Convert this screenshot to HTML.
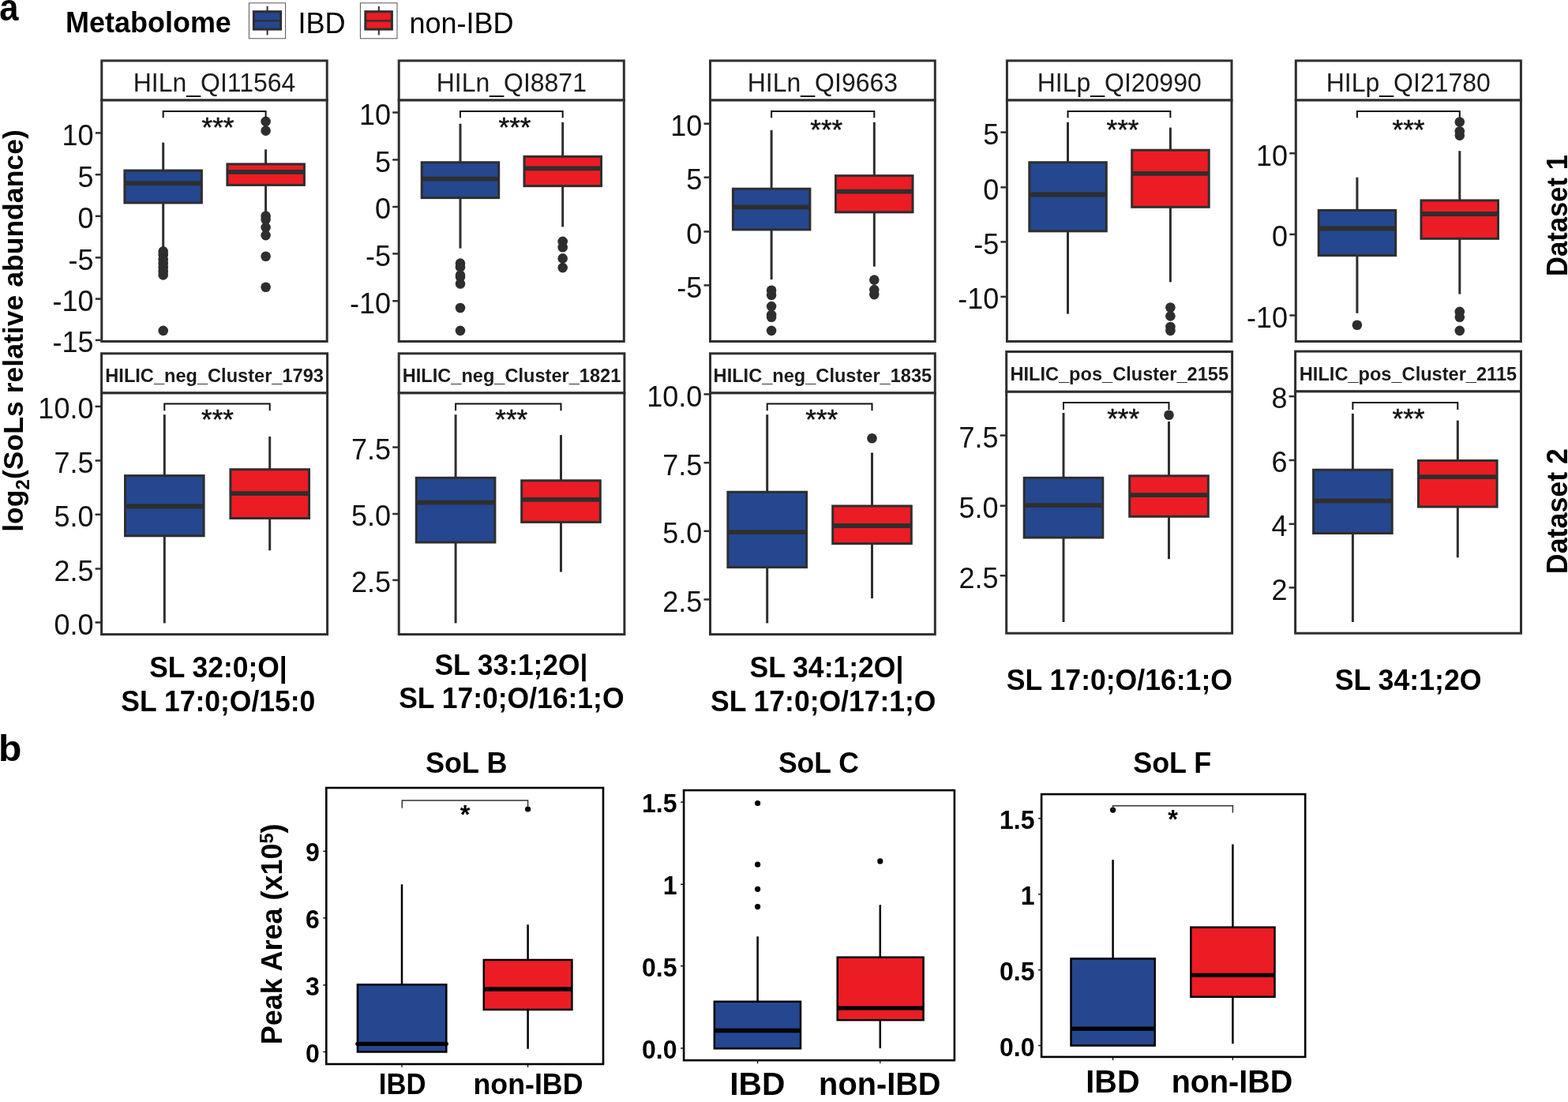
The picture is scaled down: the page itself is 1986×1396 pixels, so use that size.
<!DOCTYPE html><html><head><meta charset="utf-8"><style>html,body{margin:0;padding:0;background:#fff}svg{display:block}text{font-family:"Liberation Sans",Arial,sans-serif}</style></head><body>
<svg width="1986" height="1396" viewBox="0 0 1986 1396">
<rect width="1986" height="1396" fill="#fff"/>
<text transform="translate(-0.81,26.20) scale(0.8980,1)" font-size="48.5" font-weight="bold" fill="#000">a</text>
<text transform="translate(-2.03,963.90) scale(1.0348,1)" font-size="46.5" font-weight="bold" fill="#000">b</text>
<text transform="translate(83.06,41.10) scale(0.9992,1.045)" font-size="36" font-weight="bold" fill="#000">Metabolome</text>
<rect x="315.4" y="3.8" width="46.2" height="45" fill="#fff" stroke="#555" stroke-width="1"/>
<line x1="338.6" y1="7.8" x2="338.6" y2="44.4" stroke="#2e2e2e" stroke-width="2"/>
<rect x="321.4" y="14.7" width="34.2" height="22.4" fill="#25478f" stroke="#2e2e2e" stroke-width="3"/>
<line x1="321.4" y1="26.3" x2="355.6" y2="26.3" stroke="#2e2e2e" stroke-width="2.2"/>
<text transform="translate(377.45,42.00) scale(1.0022,1.045)" font-size="36" fill="#000">IBD</text>
<rect x="456.4" y="3.8" width="46.6" height="45" fill="#fff" stroke="#555" stroke-width="1"/>
<line x1="479.8" y1="7.8" x2="479.8" y2="44.4" stroke="#2e2e2e" stroke-width="2"/>
<rect x="462.8" y="14.7" width="33.6" height="22.4" fill="#ec1c24" stroke="#2e2e2e" stroke-width="3"/>
<line x1="462.8" y1="26.3" x2="496.4" y2="26.3" stroke="#2e2e2e" stroke-width="2.2"/>
<text transform="translate(518.46,42.00) scale(1.0009,1.045)" font-size="36" fill="#000">non-IBD</text>
<text transform="translate(29,673.8) rotate(-90)" font-size="35.6" font-weight="bold" fill="#000">log<tspan font-size="24" dy="8">2</tspan><tspan dy="-8">(SoLs relative abundance)</tspan></text>
<text transform="translate(1985.00,349.95) rotate(-90) scale(0.9748,1.045)" font-size="35.5" font-weight="bold" fill="#000">Dataset 1</text>
<text transform="translate(1985.00,727.23) rotate(-90) scale(1.0093,1.045)" font-size="35.5" font-weight="bold" fill="#000">Dataset 2</text>
<rect x="128.8" y="76.9" width="285.4" height="50.1" fill="#fff" stroke="#2e2e2e" stroke-width="3"/>
<text transform="translate(271.5,115.7) scale(1,1.045)" text-anchor="middle" font-size="32" font-weight="normal" fill="#1a1a1a">HILn_QI11564</text>
<rect x="128.8" y="127" width="285.4" height="305.5" fill="#fff" stroke="#2e2e2e" stroke-width="3"/>
<line x1="120.8" y1="168.4" x2="128.8" y2="168.4" stroke="#2e2e2e" stroke-width="2.5"/>
<text transform="translate(118.6,183.7) scale(1,1.045)" text-anchor="end" font-size="36" fill="#111">10</text>
<line x1="120.8" y1="221.2" x2="128.8" y2="221.2" stroke="#2e2e2e" stroke-width="2.5"/>
<text transform="translate(118.6,236.5) scale(1,1.045)" text-anchor="end" font-size="36" fill="#111">5</text>
<line x1="120.8" y1="273.8" x2="128.8" y2="273.8" stroke="#2e2e2e" stroke-width="2.5"/>
<text transform="translate(118.6,289.1) scale(1,1.045)" text-anchor="end" font-size="36" fill="#111">0</text>
<line x1="120.8" y1="326.3" x2="128.8" y2="326.3" stroke="#2e2e2e" stroke-width="2.5"/>
<text transform="translate(118.6,341.6) scale(1,1.045)" text-anchor="end" font-size="36" fill="#111">-5</text>
<line x1="120.8" y1="378.6" x2="128.8" y2="378.6" stroke="#2e2e2e" stroke-width="2.5"/>
<text transform="translate(118.6,393.9) scale(1,1.045)" text-anchor="end" font-size="36" fill="#111">-10</text>
<line x1="120.8" y1="430.9" x2="128.8" y2="430.9" stroke="#2e2e2e" stroke-width="2.5"/>
<text transform="translate(118.6,446.2) scale(1,1.045)" text-anchor="end" font-size="36" fill="#111">-15</text>
<line x1="206.7" y1="180.6" x2="206.7" y2="216" stroke="#2e2e2e" stroke-width="3"/>
<line x1="206.7" y1="256.9" x2="206.7" y2="313" stroke="#2e2e2e" stroke-width="3"/>
<rect x="157.9" y="216" width="97.5" height="40.9" fill="#25478f" stroke="#2e2e2e" stroke-width="3"/>
<line x1="157.9" y1="232.1" x2="255.4" y2="232.1" stroke="#2e2e2e" stroke-width="5.8" stroke-linecap="butt"/>
<circle cx="206.7" cy="318.4" r="6.3" fill="#2e2e2e"/>
<circle cx="206.7" cy="323" r="6.3" fill="#2e2e2e"/>
<circle cx="206.7" cy="329" r="6.3" fill="#2e2e2e"/>
<circle cx="206.7" cy="334" r="6.3" fill="#2e2e2e"/>
<circle cx="206.7" cy="339" r="6.3" fill="#2e2e2e"/>
<circle cx="206.7" cy="344" r="6.3" fill="#2e2e2e"/>
<circle cx="206.7" cy="348.4" r="6.3" fill="#2e2e2e"/>
<circle cx="206.7" cy="418.9" r="6.3" fill="#2e2e2e"/>
<line x1="336.6" y1="189.3" x2="336.6" y2="207.9" stroke="#2e2e2e" stroke-width="3"/>
<line x1="336.6" y1="234.4" x2="336.6" y2="272.4" stroke="#2e2e2e" stroke-width="3"/>
<rect x="287.9" y="207.9" width="97.5" height="26.5" fill="#ec1c24" stroke="#2e2e2e" stroke-width="3"/>
<line x1="287.9" y1="217.8" x2="385.4" y2="217.8" stroke="#2e2e2e" stroke-width="5.8" stroke-linecap="butt"/>
<circle cx="336.6" cy="153.9" r="6.3" fill="#2e2e2e"/>
<circle cx="336.6" cy="165.6" r="6.3" fill="#2e2e2e"/>
<circle cx="336.6" cy="273.6" r="6.3" fill="#2e2e2e"/>
<circle cx="336.6" cy="278.1" r="6.3" fill="#2e2e2e"/>
<circle cx="336.6" cy="288.1" r="6.3" fill="#2e2e2e"/>
<circle cx="336.6" cy="298.1" r="6.3" fill="#2e2e2e"/>
<circle cx="336.6" cy="324.8" r="6.3" fill="#2e2e2e"/>
<circle cx="336.6" cy="363.8" r="6.3" fill="#2e2e2e"/>
<path d="M206.7 149.3V141H336.6V149.3" fill="none" stroke="#111" stroke-width="2"/>
<text x="276" y="172.9" text-anchor="middle" font-size="35" fill="#111" stroke="#111" stroke-width="0.5">***</text>
<rect x="505.2" y="76.9" width="285.1" height="50.1" fill="#fff" stroke="#2e2e2e" stroke-width="3"/>
<text transform="translate(647.8,115.7) scale(1,1.045)" text-anchor="middle" font-size="32" font-weight="normal" fill="#1a1a1a">HILn_QI8871</text>
<rect x="505.2" y="127" width="285.1" height="305.5" fill="#fff" stroke="#2e2e2e" stroke-width="3"/>
<line x1="497.2" y1="142.5" x2="505.2" y2="142.5" stroke="#2e2e2e" stroke-width="2.5"/>
<text transform="translate(495,157.8) scale(1,1.045)" text-anchor="end" font-size="36" fill="#111">10</text>
<line x1="497.2" y1="202.4" x2="505.2" y2="202.4" stroke="#2e2e2e" stroke-width="2.5"/>
<text transform="translate(495,217.7) scale(1,1.045)" text-anchor="end" font-size="36" fill="#111">5</text>
<line x1="497.2" y1="262" x2="505.2" y2="262" stroke="#2e2e2e" stroke-width="2.5"/>
<text transform="translate(495,277.3) scale(1,1.045)" text-anchor="end" font-size="36" fill="#111">0</text>
<line x1="497.2" y1="321.4" x2="505.2" y2="321.4" stroke="#2e2e2e" stroke-width="2.5"/>
<text transform="translate(495,336.7) scale(1,1.045)" text-anchor="end" font-size="36" fill="#111">-5</text>
<line x1="497.2" y1="381.3" x2="505.2" y2="381.3" stroke="#2e2e2e" stroke-width="2.5"/>
<text transform="translate(495,396.6) scale(1,1.045)" text-anchor="end" font-size="36" fill="#111">-10</text>
<line x1="583" y1="156.7" x2="583" y2="205.7" stroke="#2e2e2e" stroke-width="3"/>
<line x1="583" y1="250.6" x2="583" y2="314.6" stroke="#2e2e2e" stroke-width="3"/>
<rect x="534.2" y="205.7" width="97.5" height="44.9" fill="#25478f" stroke="#2e2e2e" stroke-width="3"/>
<line x1="534.2" y1="226.6" x2="631.8" y2="226.6" stroke="#2e2e2e" stroke-width="5.8" stroke-linecap="butt"/>
<circle cx="583" cy="333.6" r="6.3" fill="#2e2e2e"/>
<circle cx="583" cy="338.3" r="6.3" fill="#2e2e2e"/>
<circle cx="583" cy="348.6" r="6.3" fill="#2e2e2e"/>
<circle cx="583" cy="350.8" r="6.3" fill="#2e2e2e"/>
<circle cx="583" cy="359.5" r="6.3" fill="#2e2e2e"/>
<circle cx="583" cy="390" r="6.3" fill="#2e2e2e"/>
<circle cx="583" cy="418.9" r="6.3" fill="#2e2e2e"/>
<line x1="712.7" y1="154.8" x2="712.7" y2="198.3" stroke="#2e2e2e" stroke-width="3"/>
<line x1="712.7" y1="235.6" x2="712.7" y2="287.4" stroke="#2e2e2e" stroke-width="3"/>
<rect x="664" y="198.3" width="97.5" height="37.3" fill="#ec1c24" stroke="#2e2e2e" stroke-width="3"/>
<line x1="664" y1="213.3" x2="761.5" y2="213.3" stroke="#2e2e2e" stroke-width="5.8" stroke-linecap="butt"/>
<circle cx="712.7" cy="305.9" r="6.3" fill="#2e2e2e"/>
<circle cx="712.7" cy="313.2" r="6.3" fill="#2e2e2e"/>
<circle cx="712.7" cy="327.4" r="6.3" fill="#2e2e2e"/>
<circle cx="712.7" cy="339.1" r="6.3" fill="#2e2e2e"/>
<path d="M583 149.3V141H712.7V149.3" fill="none" stroke="#111" stroke-width="2"/>
<text x="652" y="173" text-anchor="middle" font-size="35" fill="#111" stroke="#111" stroke-width="0.5">***</text>
<rect x="899.5" y="76.9" width="284.8" height="50.1" fill="#fff" stroke="#2e2e2e" stroke-width="3"/>
<text transform="translate(1041.9,115.7) scale(1,1.045)" text-anchor="middle" font-size="32" font-weight="normal" fill="#1a1a1a">HILn_QI9663</text>
<rect x="899.5" y="127" width="284.8" height="305.5" fill="#fff" stroke="#2e2e2e" stroke-width="3"/>
<line x1="891.5" y1="156.7" x2="899.5" y2="156.7" stroke="#2e2e2e" stroke-width="2.5"/>
<text transform="translate(889.3,172) scale(1,1.045)" text-anchor="end" font-size="36" fill="#111">10</text>
<line x1="891.5" y1="224.7" x2="899.5" y2="224.7" stroke="#2e2e2e" stroke-width="2.5"/>
<text transform="translate(889.3,240) scale(1,1.045)" text-anchor="end" font-size="36" fill="#111">5</text>
<line x1="891.5" y1="293.4" x2="899.5" y2="293.4" stroke="#2e2e2e" stroke-width="2.5"/>
<text transform="translate(889.3,308.7) scale(1,1.045)" text-anchor="end" font-size="36" fill="#111">0</text>
<line x1="891.5" y1="361.4" x2="899.5" y2="361.4" stroke="#2e2e2e" stroke-width="2.5"/>
<text transform="translate(889.3,376.7) scale(1,1.045)" text-anchor="end" font-size="36" fill="#111">-5</text>
<line x1="977.1" y1="164.8" x2="977.1" y2="239.2" stroke="#2e2e2e" stroke-width="3"/>
<line x1="977.1" y1="290.9" x2="977.1" y2="354.1" stroke="#2e2e2e" stroke-width="3"/>
<rect x="928.4" y="239.2" width="97.5" height="51.7" fill="#25478f" stroke="#2e2e2e" stroke-width="3"/>
<line x1="928.4" y1="262.3" x2="1025.8" y2="262.3" stroke="#2e2e2e" stroke-width="5.8" stroke-linecap="butt"/>
<circle cx="977.1" cy="367.7" r="6.3" fill="#2e2e2e"/>
<circle cx="977.1" cy="373.7" r="6.3" fill="#2e2e2e"/>
<circle cx="977.1" cy="388.1" r="6.3" fill="#2e2e2e"/>
<circle cx="977.1" cy="399" r="6.3" fill="#2e2e2e"/>
<circle cx="977.1" cy="401.7" r="6.3" fill="#2e2e2e"/>
<circle cx="977.1" cy="418.9" r="6.3" fill="#2e2e2e"/>
<line x1="1107.3" y1="154.8" x2="1107.3" y2="222.6" stroke="#2e2e2e" stroke-width="3"/>
<line x1="1107.3" y1="268.8" x2="1107.3" y2="337.7" stroke="#2e2e2e" stroke-width="3"/>
<rect x="1058.5" y="222.6" width="97.5" height="46.2" fill="#ec1c24" stroke="#2e2e2e" stroke-width="3"/>
<line x1="1058.5" y1="242.7" x2="1156" y2="242.7" stroke="#2e2e2e" stroke-width="5.8" stroke-linecap="butt"/>
<circle cx="1107.3" cy="354.6" r="6.3" fill="#2e2e2e"/>
<circle cx="1107.3" cy="367.1" r="6.3" fill="#2e2e2e"/>
<circle cx="1107.3" cy="373.1" r="6.3" fill="#2e2e2e"/>
<path d="M977.1 149.3V141H1107.3V149.3" fill="none" stroke="#111" stroke-width="2"/>
<text x="1046.8" y="176.1" text-anchor="middle" font-size="35" fill="#111" stroke="#111" stroke-width="0.5">***</text>
<rect x="1275.4" y="76.9" width="284.6" height="50.1" fill="#fff" stroke="#2e2e2e" stroke-width="3"/>
<text transform="translate(1417.7,115.7) scale(1,1.045)" text-anchor="middle" font-size="32" font-weight="normal" fill="#1a1a1a">HILp_QI20990</text>
<rect x="1275.4" y="127" width="284.6" height="305.5" fill="#fff" stroke="#2e2e2e" stroke-width="3"/>
<line x1="1267.4" y1="167.6" x2="1275.4" y2="167.6" stroke="#2e2e2e" stroke-width="2.5"/>
<text transform="translate(1265.2,182.9) scale(1,1.045)" text-anchor="end" font-size="36" fill="#111">5</text>
<line x1="1267.4" y1="237.3" x2="1275.4" y2="237.3" stroke="#2e2e2e" stroke-width="2.5"/>
<text transform="translate(1265.2,252.6) scale(1,1.045)" text-anchor="end" font-size="36" fill="#111">0</text>
<line x1="1267.4" y1="306.4" x2="1275.4" y2="306.4" stroke="#2e2e2e" stroke-width="2.5"/>
<text transform="translate(1265.2,321.7) scale(1,1.045)" text-anchor="end" font-size="36" fill="#111">-5</text>
<line x1="1267.4" y1="375.9" x2="1275.4" y2="375.9" stroke="#2e2e2e" stroke-width="2.5"/>
<text transform="translate(1265.2,391.2) scale(1,1.045)" text-anchor="end" font-size="36" fill="#111">-10</text>
<line x1="1352.5" y1="154.8" x2="1352.5" y2="205.7" stroke="#2e2e2e" stroke-width="3"/>
<line x1="1352.5" y1="292.8" x2="1352.5" y2="397.6" stroke="#2e2e2e" stroke-width="3"/>
<rect x="1303.8" y="205.7" width="97.5" height="87.1" fill="#25478f" stroke="#2e2e2e" stroke-width="3"/>
<line x1="1303.8" y1="246.5" x2="1401.2" y2="246.5" stroke="#2e2e2e" stroke-width="5.8" stroke-linecap="butt"/>
<line x1="1482.4" y1="161.6" x2="1482.4" y2="190.2" stroke="#2e2e2e" stroke-width="3"/>
<line x1="1482.4" y1="262.3" x2="1482.4" y2="357.3" stroke="#2e2e2e" stroke-width="3"/>
<rect x="1433.7" y="190.2" width="97.5" height="72.1" fill="#ec1c24" stroke="#2e2e2e" stroke-width="3"/>
<line x1="1433.7" y1="219.8" x2="1531.2" y2="219.8" stroke="#2e2e2e" stroke-width="5.8" stroke-linecap="butt"/>
<circle cx="1482.4" cy="389.5" r="6.3" fill="#2e2e2e"/>
<circle cx="1482.4" cy="400.4" r="6.3" fill="#2e2e2e"/>
<circle cx="1482.4" cy="414" r="6.3" fill="#2e2e2e"/>
<circle cx="1482.4" cy="418.9" r="6.3" fill="#2e2e2e"/>
<path d="M1352.5 149.3V141H1482.4V149.3" fill="none" stroke="#111" stroke-width="2"/>
<text x="1422" y="176" text-anchor="middle" font-size="35" fill="#111" stroke="#111" stroke-width="0.5">***</text>
<rect x="1641.3" y="76.9" width="285.1" height="50.1" fill="#fff" stroke="#2e2e2e" stroke-width="3"/>
<text transform="translate(1783.8,115.7) scale(1,1.045)" text-anchor="middle" font-size="32" font-weight="normal" fill="#1a1a1a">HILp_QI21780</text>
<rect x="1641.3" y="127" width="285.1" height="305.5" fill="#fff" stroke="#2e2e2e" stroke-width="3"/>
<line x1="1633.3" y1="194.2" x2="1641.3" y2="194.2" stroke="#2e2e2e" stroke-width="2.5"/>
<text transform="translate(1631.1,209.5) scale(1,1.045)" text-anchor="end" font-size="36" fill="#111">10</text>
<line x1="1633.3" y1="296.9" x2="1641.3" y2="296.9" stroke="#2e2e2e" stroke-width="2.5"/>
<text transform="translate(1631.1,312.2) scale(1,1.045)" text-anchor="end" font-size="36" fill="#111">0</text>
<line x1="1633.3" y1="399.5" x2="1641.3" y2="399.5" stroke="#2e2e2e" stroke-width="2.5"/>
<text transform="translate(1631.1,414.8) scale(1,1.045)" text-anchor="end" font-size="36" fill="#111">-10</text>
<line x1="1718.9" y1="224.7" x2="1718.9" y2="266.4" stroke="#2e2e2e" stroke-width="3"/>
<line x1="1718.9" y1="323.6" x2="1718.9" y2="396.8" stroke="#2e2e2e" stroke-width="3"/>
<rect x="1670.2" y="266.4" width="97.5" height="57.2" fill="#25478f" stroke="#2e2e2e" stroke-width="3"/>
<line x1="1670.2" y1="289.5" x2="1767.7" y2="289.5" stroke="#2e2e2e" stroke-width="5.8" stroke-linecap="butt"/>
<circle cx="1718.9" cy="411.8" r="6.3" fill="#2e2e2e"/>
<line x1="1848.8" y1="191.2" x2="1848.8" y2="253.9" stroke="#2e2e2e" stroke-width="3"/>
<line x1="1848.8" y1="302.3" x2="1848.8" y2="372.6" stroke="#2e2e2e" stroke-width="3"/>
<rect x="1800" y="253.9" width="97.5" height="48.4" fill="#ec1c24" stroke="#2e2e2e" stroke-width="3"/>
<line x1="1800" y1="271" x2="1897.5" y2="271" stroke="#2e2e2e" stroke-width="5.8" stroke-linecap="butt"/>
<circle cx="1848.8" cy="154.5" r="6.3" fill="#2e2e2e"/>
<circle cx="1848.8" cy="166.2" r="6.3" fill="#2e2e2e"/>
<circle cx="1848.8" cy="171.6" r="6.3" fill="#2e2e2e"/>
<circle cx="1848.8" cy="394.9" r="6.3" fill="#2e2e2e"/>
<circle cx="1848.8" cy="401.7" r="6.3" fill="#2e2e2e"/>
<circle cx="1848.8" cy="418.9" r="6.3" fill="#2e2e2e"/>
<path d="M1718.9 149.3V141H1848.8V149.3" fill="none" stroke="#111" stroke-width="2"/>
<text x="1784" y="176" text-anchor="middle" font-size="35" fill="#111" stroke="#111" stroke-width="0.5">***</text>
<rect x="128.6" y="447.8" width="286" height="50.1" fill="#fff" stroke="#2e2e2e" stroke-width="3"/>
<text transform="translate(271.6,483.5) scale(1,1.045)" text-anchor="middle" font-size="23.6" font-weight="bold" fill="#1a1a1a">HILIC_neg_Cluster_1793</text>
<rect x="128.6" y="497.9" width="286" height="305.7" fill="#fff" stroke="#2e2e2e" stroke-width="3"/>
<line x1="120.6" y1="514.9" x2="128.6" y2="514.9" stroke="#2e2e2e" stroke-width="2.5"/>
<text transform="translate(118.4,530.2) scale(1,1.045)" text-anchor="end" font-size="36" fill="#111">10.0</text>
<line x1="120.6" y1="583.5" x2="128.6" y2="583.5" stroke="#2e2e2e" stroke-width="2.5"/>
<text transform="translate(118.4,598.8) scale(1,1.045)" text-anchor="end" font-size="36" fill="#111">7.5</text>
<line x1="120.6" y1="651.8" x2="128.6" y2="651.8" stroke="#2e2e2e" stroke-width="2.5"/>
<text transform="translate(118.4,667.1) scale(1,1.045)" text-anchor="end" font-size="36" fill="#111">5.0</text>
<line x1="120.6" y1="720.5" x2="128.6" y2="720.5" stroke="#2e2e2e" stroke-width="2.5"/>
<text transform="translate(118.4,735.8) scale(1,1.045)" text-anchor="end" font-size="36" fill="#111">2.5</text>
<line x1="120.6" y1="788.5" x2="128.6" y2="788.5" stroke="#2e2e2e" stroke-width="2.5"/>
<text transform="translate(118.4,803.8) scale(1,1.045)" text-anchor="end" font-size="36" fill="#111">0.0</text>
<line x1="208.3" y1="525.2" x2="208.3" y2="602.6" stroke="#2e2e2e" stroke-width="3"/>
<line x1="208.3" y1="678.8" x2="208.3" y2="789.4" stroke="#2e2e2e" stroke-width="3"/>
<rect x="158.5" y="602.6" width="99.6" height="76.2" fill="#25478f" stroke="#2e2e2e" stroke-width="3"/>
<line x1="158.5" y1="641.5" x2="258.1" y2="641.5" stroke="#2e2e2e" stroke-width="5.8" stroke-linecap="butt"/>
<line x1="341.7" y1="553" x2="341.7" y2="594.7" stroke="#2e2e2e" stroke-width="3"/>
<line x1="341.7" y1="656.5" x2="341.7" y2="697.3" stroke="#2e2e2e" stroke-width="3"/>
<rect x="291.9" y="594.7" width="99.6" height="61.8" fill="#ec1c24" stroke="#2e2e2e" stroke-width="3"/>
<line x1="291.9" y1="625.2" x2="391.5" y2="625.2" stroke="#2e2e2e" stroke-width="5.8" stroke-linecap="butt"/>
<path d="M208.3 520.3V511.6H341.7V520.3" fill="none" stroke="#111" stroke-width="2"/>
<text x="275.5" y="543.1" text-anchor="middle" font-size="35" fill="#111" stroke="#111" stroke-width="0.5">***</text>
<rect x="505.2" y="447.8" width="285.7" height="50.1" fill="#fff" stroke="#2e2e2e" stroke-width="3"/>
<text transform="translate(648,483.5) scale(1,1.045)" text-anchor="middle" font-size="23.6" font-weight="bold" fill="#1a1a1a">HILIC_neg_Cluster_1821</text>
<rect x="505.2" y="497.9" width="285.7" height="305.7" fill="#fff" stroke="#2e2e2e" stroke-width="3"/>
<line x1="497.2" y1="566.6" x2="505.2" y2="566.6" stroke="#2e2e2e" stroke-width="2.5"/>
<text transform="translate(495,581.9) scale(1,1.045)" text-anchor="end" font-size="36" fill="#111">7.5</text>
<line x1="497.2" y1="651" x2="505.2" y2="651" stroke="#2e2e2e" stroke-width="2.5"/>
<text transform="translate(495,666.3) scale(1,1.045)" text-anchor="end" font-size="36" fill="#111">5.0</text>
<line x1="497.2" y1="734.9" x2="505.2" y2="734.9" stroke="#2e2e2e" stroke-width="2.5"/>
<text transform="translate(495,750.2) scale(1,1.045)" text-anchor="end" font-size="36" fill="#111">2.5</text>
<line x1="577.1" y1="525.2" x2="577.1" y2="605.3" stroke="#2e2e2e" stroke-width="3"/>
<line x1="577.1" y1="687" x2="577.1" y2="789.4" stroke="#2e2e2e" stroke-width="3"/>
<rect x="527.3" y="605.3" width="99.6" height="81.7" fill="#25478f" stroke="#2e2e2e" stroke-width="3"/>
<line x1="527.3" y1="636.6" x2="626.9" y2="636.6" stroke="#2e2e2e" stroke-width="5.8" stroke-linecap="butt"/>
<line x1="710.5" y1="551.1" x2="710.5" y2="608.8" stroke="#2e2e2e" stroke-width="3"/>
<line x1="710.5" y1="661.4" x2="710.5" y2="724.5" stroke="#2e2e2e" stroke-width="3"/>
<rect x="660.7" y="608.8" width="99.6" height="52.6" fill="#ec1c24" stroke="#2e2e2e" stroke-width="3"/>
<line x1="660.7" y1="632.8" x2="760.3" y2="632.8" stroke="#2e2e2e" stroke-width="5.8" stroke-linecap="butt"/>
<path d="M577.1 520.3V511.6H710.5V520.3" fill="none" stroke="#111" stroke-width="2"/>
<text x="647.8" y="543.1" text-anchor="middle" font-size="35" fill="#111" stroke="#111" stroke-width="0.5">***</text>
<rect x="899.5" y="447.8" width="284.8" height="50.1" fill="#fff" stroke="#2e2e2e" stroke-width="3"/>
<text transform="translate(1041.9,483.5) scale(1,1.045)" text-anchor="middle" font-size="23.6" font-weight="bold" fill="#1a1a1a">HILIC_neg_Cluster_1835</text>
<rect x="899.5" y="497.9" width="284.8" height="305.7" fill="#fff" stroke="#2e2e2e" stroke-width="3"/>
<line x1="891.5" y1="499.4" x2="899.5" y2="499.4" stroke="#2e2e2e" stroke-width="2.5"/>
<text transform="translate(889.3,514.7) scale(1,1.045)" text-anchor="end" font-size="36" fill="#111">10.0</text>
<line x1="891.5" y1="586.2" x2="899.5" y2="586.2" stroke="#2e2e2e" stroke-width="2.5"/>
<text transform="translate(889.3,601.5) scale(1,1.045)" text-anchor="end" font-size="36" fill="#111">7.5</text>
<line x1="891.5" y1="672.8" x2="899.5" y2="672.8" stroke="#2e2e2e" stroke-width="2.5"/>
<text transform="translate(889.3,688.1) scale(1,1.045)" text-anchor="end" font-size="36" fill="#111">5.0</text>
<line x1="891.5" y1="759.4" x2="899.5" y2="759.4" stroke="#2e2e2e" stroke-width="2.5"/>
<text transform="translate(889.3,774.7) scale(1,1.045)" text-anchor="end" font-size="36" fill="#111">2.5</text>
<line x1="971.7" y1="525.2" x2="971.7" y2="623.3" stroke="#2e2e2e" stroke-width="3"/>
<line x1="971.7" y1="718.6" x2="971.7" y2="789.4" stroke="#2e2e2e" stroke-width="3"/>
<rect x="921.9" y="623.3" width="99.6" height="95.3" fill="#25478f" stroke="#2e2e2e" stroke-width="3"/>
<line x1="921.9" y1="674.2" x2="1021.5" y2="674.2" stroke="#2e2e2e" stroke-width="5.8" stroke-linecap="butt"/>
<line x1="1104.5" y1="573.4" x2="1104.5" y2="641" stroke="#2e2e2e" stroke-width="3"/>
<line x1="1104.5" y1="688.6" x2="1104.5" y2="758" stroke="#2e2e2e" stroke-width="3"/>
<rect x="1054.7" y="641" width="99.6" height="47.6" fill="#ec1c24" stroke="#2e2e2e" stroke-width="3"/>
<line x1="1054.7" y1="666" x2="1154.3" y2="666" stroke="#2e2e2e" stroke-width="5.8" stroke-linecap="butt"/>
<circle cx="1104.5" cy="555.2" r="6.3" fill="#2e2e2e"/>
<path d="M971.7 520.3V511.6H1104.5V520.3" fill="none" stroke="#111" stroke-width="2"/>
<text x="1040.8" y="543.1" text-anchor="middle" font-size="35" fill="#111" stroke="#111" stroke-width="0.5">***</text>
<rect x="1274.7" y="445.5" width="285.9" height="50.8" fill="#fff" stroke="#2e2e2e" stroke-width="3"/>
<text transform="translate(1417.7,481.9) scale(1,1.045)" text-anchor="middle" font-size="23.6" font-weight="bold" fill="#1a1a1a">HILIC_pos_Cluster_2155</text>
<rect x="1274.7" y="496.3" width="285.9" height="305.9" fill="#fff" stroke="#2e2e2e" stroke-width="3"/>
<line x1="1266.7" y1="551.6" x2="1274.7" y2="551.6" stroke="#2e2e2e" stroke-width="2.5"/>
<text transform="translate(1264.5,566.9) scale(1,1.045)" text-anchor="end" font-size="36" fill="#111">7.5</text>
<line x1="1266.7" y1="640.7" x2="1274.7" y2="640.7" stroke="#2e2e2e" stroke-width="2.5"/>
<text transform="translate(1264.5,656) scale(1,1.045)" text-anchor="end" font-size="36" fill="#111">5.0</text>
<line x1="1266.7" y1="729.2" x2="1274.7" y2="729.2" stroke="#2e2e2e" stroke-width="2.5"/>
<text transform="translate(1264.5,744.5) scale(1,1.045)" text-anchor="end" font-size="36" fill="#111">2.5</text>
<line x1="1347" y1="523" x2="1347" y2="605.3" stroke="#2e2e2e" stroke-width="3"/>
<line x1="1347" y1="681" x2="1347" y2="788" stroke="#2e2e2e" stroke-width="3"/>
<rect x="1297.2" y="605.3" width="99.6" height="75.7" fill="#25478f" stroke="#2e2e2e" stroke-width="3"/>
<line x1="1297.2" y1="640.1" x2="1396.8" y2="640.1" stroke="#2e2e2e" stroke-width="5.8" stroke-linecap="butt"/>
<line x1="1480.5" y1="533.9" x2="1480.5" y2="602.8" stroke="#2e2e2e" stroke-width="3"/>
<line x1="1480.5" y1="654.3" x2="1480.5" y2="708.2" stroke="#2e2e2e" stroke-width="3"/>
<rect x="1430.7" y="602.8" width="99.6" height="51.5" fill="#ec1c24" stroke="#2e2e2e" stroke-width="3"/>
<line x1="1430.7" y1="627.1" x2="1530.3" y2="627.1" stroke="#2e2e2e" stroke-width="5.8" stroke-linecap="butt"/>
<circle cx="1480.5" cy="525.8" r="6.3" fill="#2e2e2e"/>
<path d="M1347 519V510H1480.5V519" fill="none" stroke="#111" stroke-width="2"/>
<text x="1422.7" y="541.5" text-anchor="middle" font-size="35" fill="#111" stroke="#111" stroke-width="0.5">***</text>
<rect x="1640.6" y="445.1" width="285.9" height="50.8" fill="#fff" stroke="#2e2e2e" stroke-width="3"/>
<text transform="translate(1783.5,481.5) scale(1,1.045)" text-anchor="middle" font-size="23.6" font-weight="bold" fill="#1a1a1a">HILIC_pos_Cluster_2115</text>
<rect x="1640.6" y="495.9" width="285.9" height="306.3" fill="#fff" stroke="#2e2e2e" stroke-width="3"/>
<line x1="1632.6" y1="502.1" x2="1640.6" y2="502.1" stroke="#2e2e2e" stroke-width="2.5"/>
<text transform="translate(1630.4,517.4) scale(1,1.045)" text-anchor="end" font-size="36" fill="#111">8</text>
<line x1="1632.6" y1="583" x2="1640.6" y2="583" stroke="#2e2e2e" stroke-width="2.5"/>
<text transform="translate(1630.4,598.3) scale(1,1.045)" text-anchor="end" font-size="36" fill="#111">6</text>
<line x1="1632.6" y1="663.8" x2="1640.6" y2="663.8" stroke="#2e2e2e" stroke-width="2.5"/>
<text transform="translate(1630.4,679.1) scale(1,1.045)" text-anchor="end" font-size="36" fill="#111">4</text>
<line x1="1632.6" y1="744.4" x2="1640.6" y2="744.4" stroke="#2e2e2e" stroke-width="2.5"/>
<text transform="translate(1630.4,759.7) scale(1,1.045)" text-anchor="end" font-size="36" fill="#111">2</text>
<line x1="1713.4" y1="523.9" x2="1713.4" y2="595.2" stroke="#2e2e2e" stroke-width="3"/>
<line x1="1713.4" y1="675.5" x2="1713.4" y2="788" stroke="#2e2e2e" stroke-width="3"/>
<rect x="1663.6" y="595.2" width="99.6" height="80.3" fill="#25478f" stroke="#2e2e2e" stroke-width="3"/>
<line x1="1663.6" y1="634.7" x2="1763.2" y2="634.7" stroke="#2e2e2e" stroke-width="5.8" stroke-linecap="butt"/>
<line x1="1846.3" y1="532.6" x2="1846.3" y2="583.5" stroke="#2e2e2e" stroke-width="3"/>
<line x1="1846.3" y1="642" x2="1846.3" y2="706.3" stroke="#2e2e2e" stroke-width="3"/>
<rect x="1796.5" y="583.5" width="99.6" height="58.5" fill="#ec1c24" stroke="#2e2e2e" stroke-width="3"/>
<line x1="1796.5" y1="604.2" x2="1896.1" y2="604.2" stroke="#2e2e2e" stroke-width="5.8" stroke-linecap="butt"/>
<path d="M1713.4 519V510H1846.3V519" fill="none" stroke="#111" stroke-width="2"/>
<text x="1784" y="541.5" text-anchor="middle" font-size="35" fill="#111" stroke="#111" stroke-width="0.5">***</text>
<text transform="translate(189.14,857.90) scale(0.9983,1.045)" font-size="35.5" font-weight="bold" fill="#000">SL 32:0;O|</text>
<text transform="translate(153.33,901.00) scale(1.0007,1.045)" font-size="35.5" font-weight="bold" fill="#000">SL 17:0;O/15:0</text>
<text transform="translate(550.44,854.70) scale(0.9964,1.045)" font-size="35.5" font-weight="bold" fill="#000">SL 33:1;2O|</text>
<text transform="translate(505.13,897.00) scale(1.0002,1.045)" font-size="35.5" font-weight="bold" fill="#000">SL 17:0;O/16:1;O</text>
<text transform="translate(949.43,857.90) scale(1.0016,1.045)" font-size="35.5" font-weight="bold" fill="#000">SL 34:1;2O|</text>
<text transform="translate(900.03,901.00) scale(1.0002,1.045)" font-size="35.5" font-weight="bold" fill="#000">SL 17:0;O/17:1;O</text>
<text transform="translate(1274.83,873.90) scale(1.0027,1.045)" font-size="35.5" font-weight="bold" fill="#000">SL 17:0;O/16:1;O</text>
<text transform="translate(1690.73,873.90) scale(1.0055,1.045)" font-size="35.5" font-weight="bold" fill="#000">SL 34:1;2O</text>
<text transform="translate(538.92,979.10) scale(1.0018,1.05)" font-size="36" font-weight="bold" fill="#000">SoL B</text>
<rect x="413.3" y="998" width="350.7" height="350" fill="#fff" stroke="#000" stroke-width="2.6"/>
<line x1="409.3" y1="1078.3" x2="413.3" y2="1078.3" stroke="#000" stroke-width="1.4"/>
<text transform="translate(404.7,1091.3) scale(1,1.045)" text-anchor="end" font-size="32" font-weight="bold" fill="#000">9</text>
<line x1="409.3" y1="1162.9" x2="413.3" y2="1162.9" stroke="#000" stroke-width="1.4"/>
<text transform="translate(404.7,1175.9) scale(1,1.045)" text-anchor="end" font-size="32" font-weight="bold" fill="#000">6</text>
<line x1="409.3" y1="1247.9" x2="413.3" y2="1247.9" stroke="#000" stroke-width="1.4"/>
<text transform="translate(404.7,1260.9) scale(1,1.045)" text-anchor="end" font-size="32" font-weight="bold" fill="#000">3</text>
<line x1="409.3" y1="1332.5" x2="413.3" y2="1332.5" stroke="#000" stroke-width="1.4"/>
<text transform="translate(404.7,1345.5) scale(1,1.045)" text-anchor="end" font-size="32" font-weight="bold" fill="#000">0</text>
<line x1="509" y1="1348" x2="509" y2="1352" stroke="#000" stroke-width="1.2"/>
<line x1="668.6" y1="1348" x2="668.6" y2="1352" stroke="#000" stroke-width="1.2"/>
<line x1="509" y1="1120.3" x2="509" y2="1247.3" stroke="#000" stroke-width="2.5"/>
<rect x="452.9" y="1247.3" width="112.4" height="85.2" fill="#25478f" stroke="#000" stroke-width="2.5"/>
<line x1="452.9" y1="1322.3" x2="565.3" y2="1322.3" stroke="#000" stroke-width="5.3" stroke-linecap="round"/>
<line x1="668.6" y1="1171.3" x2="668.6" y2="1216" stroke="#000" stroke-width="2.5"/>
<line x1="668.6" y1="1279" x2="668.6" y2="1328.7" stroke="#000" stroke-width="2.5"/>
<rect x="612.8" y="1216" width="111.6" height="63" fill="#ec1c24" stroke="#000" stroke-width="2.5"/>
<line x1="612.8" y1="1253" x2="724.4" y2="1253" stroke="#000" stroke-width="5.3" stroke-linecap="butt"/>
<circle cx="668.6" cy="1025" r="3.6" fill="#000"/>
<text transform="translate(479.75,1385.60) scale(0.9907,1.045)" font-size="35" font-weight="bold" fill="#000">IBD</text>
<text transform="translate(599.48,1385.60) scale(1.0219,1.045)" font-size="35" font-weight="bold" fill="#000">non-IBD</text>
<path d="M509.3 1023.8V1014.1H668.6V1021.5" fill="none" stroke="#333" stroke-width="1.5"/>
<text x="589" y="1042.6" text-anchor="middle" font-size="32.5" font-weight="bold" fill="#000">*</text>
<text transform="translate(985.93,979.10) scale(0.9868,1.05)" font-size="36" font-weight="bold" fill="#000">SoL C</text>
<rect x="866.1" y="1001.1" width="342.8" height="342.1" fill="#fff" stroke="#000" stroke-width="2.6"/>
<line x1="862.1" y1="1016.1" x2="866.1" y2="1016.1" stroke="#000" stroke-width="1.4"/>
<text transform="translate(857.5,1029.1) scale(1,1.045)" text-anchor="end" font-size="32" font-weight="bold" fill="#000">1.5</text>
<line x1="862.1" y1="1120.3" x2="866.1" y2="1120.3" stroke="#000" stroke-width="1.4"/>
<text transform="translate(857.5,1133.3) scale(1,1.045)" text-anchor="end" font-size="32" font-weight="bold" fill="#000">1</text>
<line x1="862.1" y1="1223.7" x2="866.1" y2="1223.7" stroke="#000" stroke-width="1.4"/>
<text transform="translate(857.5,1236.7) scale(1,1.045)" text-anchor="end" font-size="32" font-weight="bold" fill="#000">0.5</text>
<line x1="862.1" y1="1327.9" x2="866.1" y2="1327.9" stroke="#000" stroke-width="1.4"/>
<text transform="translate(857.5,1340.9) scale(1,1.045)" text-anchor="end" font-size="32" font-weight="bold" fill="#000">0.0</text>
<line x1="959.6" y1="1343.2" x2="959.6" y2="1347.2" stroke="#000" stroke-width="1.2"/>
<line x1="1114.8" y1="1343.2" x2="1114.8" y2="1347.2" stroke="#000" stroke-width="1.2"/>
<line x1="959.6" y1="1186.3" x2="959.6" y2="1268.8" stroke="#000" stroke-width="2.5"/>
<rect x="904.8" y="1268.8" width="109.2" height="59.4" fill="#25478f" stroke="#000" stroke-width="2.5"/>
<line x1="904.8" y1="1305.5" x2="1014" y2="1305.5" stroke="#000" stroke-width="5.3" stroke-linecap="butt"/>
<circle cx="959.6" cy="1017.5" r="3.6" fill="#000"/>
<circle cx="959.6" cy="1095.2" r="3.6" fill="#000"/>
<circle cx="959.6" cy="1126.3" r="3.6" fill="#000"/>
<circle cx="959.6" cy="1148.6" r="3.6" fill="#000"/>
<line x1="1114.8" y1="1146.3" x2="1114.8" y2="1212.7" stroke="#000" stroke-width="2.5"/>
<line x1="1114.8" y1="1292.2" x2="1114.8" y2="1327.9" stroke="#000" stroke-width="2.5"/>
<rect x="1060.7" y="1212.7" width="108.9" height="79.5" fill="#ec1c24" stroke="#000" stroke-width="2.5"/>
<line x1="1060.7" y1="1277.1" x2="1169.6" y2="1277.1" stroke="#000" stroke-width="5.3" stroke-linecap="butt"/>
<circle cx="1114.8" cy="1090.9" r="3.6" fill="#000"/>
<text transform="translate(924.26,1387.30) scale(1.0299,1.045)" font-size="39.5" font-weight="bold" fill="#000">IBD</text>
<text transform="translate(1037.12,1387.30) scale(1.0060,1.045)" font-size="39.5" font-weight="bold" fill="#000">non-IBD</text>
<text transform="translate(1435.22,979.10) scale(0.9977,1.05)" font-size="36" font-weight="bold" fill="#000">SoL F</text>
<rect x="1319.1" y="1006.1" width="334.1" height="332.8" fill="#fff" stroke="#000" stroke-width="2.6"/>
<line x1="1315.1" y1="1036.8" x2="1319.1" y2="1036.8" stroke="#000" stroke-width="1.4"/>
<text transform="translate(1310.5,1049.8) scale(1,1.045)" text-anchor="end" font-size="32" font-weight="bold" fill="#000">1.5</text>
<line x1="1315.1" y1="1132.9" x2="1319.1" y2="1132.9" stroke="#000" stroke-width="1.4"/>
<text transform="translate(1310.5,1145.9) scale(1,1.045)" text-anchor="end" font-size="32" font-weight="bold" fill="#000">1</text>
<line x1="1315.1" y1="1228.7" x2="1319.1" y2="1228.7" stroke="#000" stroke-width="1.4"/>
<text transform="translate(1310.5,1241.7) scale(1,1.045)" text-anchor="end" font-size="32" font-weight="bold" fill="#000">0.5</text>
<line x1="1315.1" y1="1324.5" x2="1319.1" y2="1324.5" stroke="#000" stroke-width="1.4"/>
<text transform="translate(1310.5,1337.5) scale(1,1.045)" text-anchor="end" font-size="32" font-weight="bold" fill="#000">0.0</text>
<line x1="1409.6" y1="1338.9" x2="1409.6" y2="1342.9" stroke="#000" stroke-width="1.2"/>
<line x1="1561.4" y1="1338.9" x2="1561.4" y2="1342.9" stroke="#000" stroke-width="1.2"/>
<line x1="1409.6" y1="1089.2" x2="1409.6" y2="1214.4" stroke="#000" stroke-width="2.5"/>
<rect x="1356.5" y="1214.4" width="106.2" height="110.1" fill="#25478f" stroke="#000" stroke-width="2.5"/>
<line x1="1356.5" y1="1303.2" x2="1462.7" y2="1303.2" stroke="#000" stroke-width="5.3" stroke-linecap="butt"/>
<circle cx="1409.6" cy="1026.1" r="3.6" fill="#000"/>
<line x1="1561.4" y1="1069.5" x2="1561.4" y2="1174.7" stroke="#000" stroke-width="2.5"/>
<line x1="1561.4" y1="1262.8" x2="1561.4" y2="1322.2" stroke="#000" stroke-width="2.5"/>
<rect x="1508.3" y="1174.7" width="106.2" height="88.1" fill="#ec1c24" stroke="#000" stroke-width="2.5"/>
<line x1="1508.3" y1="1235.4" x2="1614.5" y2="1235.4" stroke="#000" stroke-width="5.3" stroke-linecap="butt"/>
<text transform="translate(1375.32,1383.90) scale(1.0033,1.045)" font-size="39.5" font-weight="bold" fill="#000">IBD</text>
<text transform="translate(1483.73,1383.90) scale(0.9993,1.045)" font-size="39.5" font-weight="bold" fill="#000">non-IBD</text>
<path d="M1409.6 1026V1020.8H1561.4V1029.5" fill="none" stroke="#333" stroke-width="1.5"/>
<text x="1485.6" y="1048.8" text-anchor="middle" font-size="32.5" font-weight="bold" fill="#000">*</text>
<text transform="translate(357.1,1323.2) rotate(-90) scale(1,1.045)" font-size="36" font-weight="bold" fill="#000">Peak Area (x10<tspan font-size="23.5" dy="-10.8">5</tspan><tspan dy="10.8">)</tspan></text>
</svg></body></html>
